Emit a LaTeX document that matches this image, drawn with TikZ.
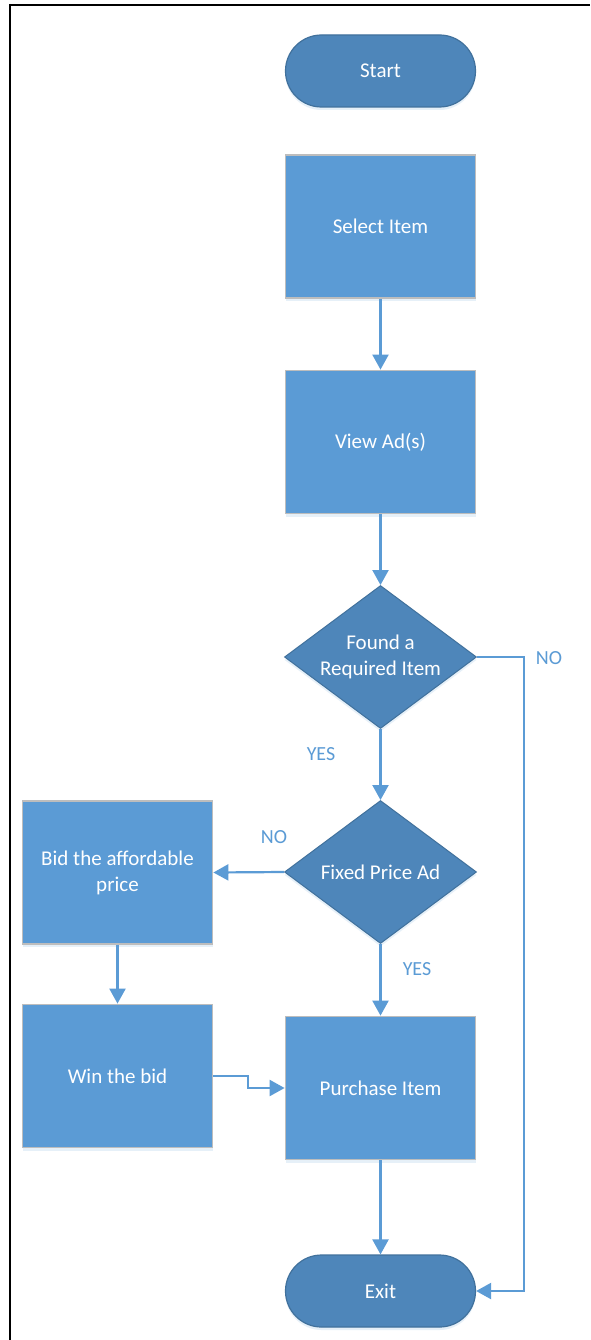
\documentclass[tikz,border=0pt]{standalone}
\usepackage{fontspec}
\setmainfont{Carlito}
\usetikzlibrary{shapes.geometric,shapes.misc,arrows.meta,shadows}
\definecolor{boxblue}{HTML}{5B9BD5}
\definecolor{darkblue}{HTML}{4E86BA}
\definecolor{darkedge}{HTML}{41719C}
\definecolor{boxedge}{HTML}{BDBDBD}
\tikzset{
  txt/.style={font=\fontsize{21}{26}\selectfont, text=white, align=center},
  shade/.style={drop shadow={shadow xshift=0pt, shadow yshift=-3pt, opacity=0.15, fill=boxblue}},
  procbox/.style={txt, rectangle, fill=boxblue, draw=boxedge, line width=1.8pt, minimum width=190pt, minimum height=143pt, inner sep=0pt, shade},
  termbox/.style={txt, rounded rectangle, fill=darkblue, draw=darkedge, line width=1.2pt, minimum width=190pt, minimum height=72pt, inner sep=0pt, shade},
  decbox/.style={txt, diamond, fill=darkblue, draw=darkedge, line width=1pt, minimum width=192pt, minimum height=143pt, inner sep=0pt, aspect=1.34, shade},
  conn/.style={draw=boxblue, line width=2.2pt, -{Triangle[length=15pt,width=16pt]}},
  lbl/.style={font=\fontsize{20}{24}\selectfont, text=boxblue}
}
\begin{document}
\begin{tikzpicture}[x=1pt,y=-1pt]
\useasboundingbox (0,0) rectangle (590,1340);
\fill[white] (0,0) rectangle (590,1340);
\draw[black, line width=2pt] (9,5) -- (590,5);
\draw[black, line width=2pt] (10,4) -- (10,1340);

\node[termbox] (start) at (380.5,71) {Start};
\node[procbox] (select) at (380.5,226.5) {Select Item};
\node[procbox] (view) at (380.5,442) {View Ad(s)};
\node[decbox] (found) at (380.5,657) {Found a\\Required Item};
\node[decbox] (fixed) at (380.5,872) {Fixed Price Ad};
\node[procbox] (bid) at (117.5,872.5) {Bid the affordable\\price};
\node[procbox] (win) at (117.5,1076) {Win the bid};
\node[procbox] (purchase) at (380.5,1088) {Purchase Item};
\node[termbox] (exit) at (380.5,1291) {Exit};

\node[lbl] (yes1) at (321,754) {YES};
\node[lbl] (no1) at (549,658) {NO};
\node[lbl] (no2) at (274,837) {NO};
\node[lbl] (yes2) at (417,969) {YES};

\coordinate (nocorner) at (524,657);
\coordinate (jog) at (248,1076);

\draw[conn] (select.south) -- (view.north);
\draw[conn] (view.south) -- (found.north);
\draw[conn] (found.south) -- (fixed.north);
\draw[conn] (found.east) -- (nocorner) |- (exit.east);
\draw[conn] (fixed.west) -- (bid.east);
\draw[conn] (fixed.south) -- (purchase.north);
\draw[conn] (bid.south) -- (win.north);
\draw[conn] (win.east) -- (jog) |- (purchase.west);
\draw[conn] (purchase.south) -- (exit.north);
\end{tikzpicture}
\end{document}
